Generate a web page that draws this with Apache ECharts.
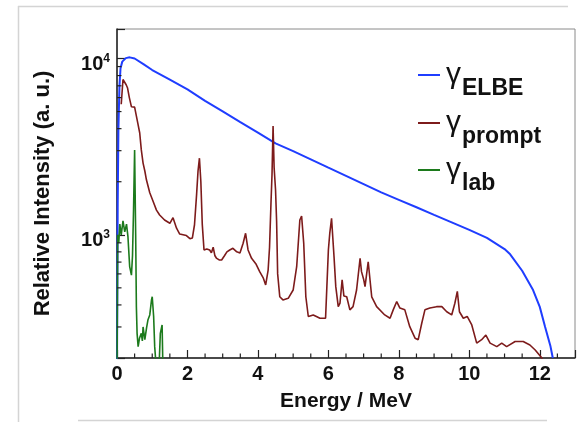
<!DOCTYPE html>
<html>
<head>
<meta charset="utf-8">
<script src="https://cdn.jsdelivr.net/npm/echarts@6/dist/echarts.min.js"></script>
<style>
html,body{margin:0;padding:0;background:#fff;}
#c{width:578px;height:422px;}
</style>
</head>
<body>
<div id="c"></div>
<script>
// ---- data (Energy in MeV, relative intensity in a.u.) ----
const elbeE = [0, 0.02, 0.04, 0.07, 0.1, 0.15, 0.25, 0.36, 0.5, 0.75, 1.0, 1.5, 2.0, 2.5, 3.0, 3.5, 4.0, 4.5, 5.0, 5.5, 6.0, 6.5, 7.0, 7.5, 8.0, 8.5, 9.0, 9.5, 10.0, 10.5, 11.0, 11.16, 11.5, 11.81, 12.0, 12.15, 12.3, 12.37];
const elbeI = [180, 1500, 4000, 7000, 8800, 9600, 10050, 10150, 10000, 9300, 8600, 7590, 6680, 5750, 5010, 4360, 3795, 3300, 2980, 2680, 2405, 2160, 1940, 1740, 1578, 1432, 1298, 1177, 1067, 960, 830, 775, 625, 486, 390, 301, 235, 200];

const promptE = [0.12, 0.17, 0.22, 0.26, 0.30, 0.35, 0.41, 0.45, 0.50, 0.55, 0.59, 0.645, 0.69, 0.74, 0.79, 0.835, 0.93, 1.01, 1.12, 1.21, 1.35, 1.50, 1.59, 1.69, 1.78, 1.97, 2.07, 2.14, 2.20, 2.26, 2.30, 2.34, 2.38, 2.42, 2.47, 2.55, 2.63, 2.68, 2.73, 2.78, 2.82, 2.90, 2.97, 3.05, 3.12, 3.20, 3.29, 3.40, 3.49, 3.58, 3.65, 3.72, 3.82, 3.95, 4.05, 4.15, 4.22, 4.29, 4.33, 4.37, 4.40, 4.43, 4.46, 4.50, 4.53, 4.56, 4.62, 4.71, 4.86, 5.00, 5.10, 5.19, 5.24, 5.30, 5.36, 5.43, 5.57, 5.66, 5.76, 5.92, 6.00, 6.04, 6.09, 6.12, 6.16, 6.21, 6.28, 6.33, 6.39, 6.44, 6.52, 6.61, 6.70, 6.80, 6.90, 6.94, 7.00, 7.04, 7.13, 7.23, 7.37, 7.60, 7.75, 7.84, 7.94, 8.03, 8.17, 8.31, 8.46, 8.55, 8.65, 8.74, 8.88, 9.07, 9.22, 9.36, 9.50, 9.59, 9.66, 9.72, 9.83, 9.94, 10.07, 10.21, 10.35, 10.47, 10.59, 10.78, 10.92, 11.06, 11.30, 11.35, 11.53, 11.72, 11.87, 12.06, 12.10];
const promptI = [5500, 7600, 7700, 7100, 6800, 6000, 5320, 5240, 5300, 5440, 4300, 3780, 3030, 2550, 2300, 2050, 1730, 1575, 1380, 1295, 1213, 1162, 1250, 1090, 1010, 990, 950, 960, 1140, 1700, 2300, 2720, 2000, 1150, 820, 830, 820, 790, 850, 760, 738, 720, 719, 760, 800, 820, 838, 800, 789, 896, 1020, 820, 735, 680, 618, 570, 519, 631, 850, 1500, 2200, 4140, 2400, 1800, 1200, 600, 445, 427, 436, 486, 659, 1213, 1278, 896, 445, 344, 351, 344, 336, 336, 820, 1023, 1240, 1213, 752, 508, 391, 410, 555, 450, 445, 375, 391, 486, 736, 618, 560, 508, 703, 445, 391, 351, 336, 375, 418, 384, 375, 301, 259, 254, 315, 375, 384, 391, 391, 366, 351, 409, 477, 366, 336, 344, 308, 243, 254, 270, 243, 232, 243, 232, 248, 254, 248, 237, 222, 200, 180];

const labE = [0, 0.02, 0.05, 0.08, 0.12, 0.17, 0.22, 0.27, 0.31, 0.36, 0.41, 0.44, 0.47, 0.50, 0.53, 0.55, 0.57, 0.60, 0.64, 0.69, 0.72, 0.74, 0.79, 0.84, 0.88, 0.93, 0.98, 1.00, 1.04, 1.07, 1.12, 1.19, 1.23, 1.28, 1.31];
const labI = [150, 1000, 900, 1150, 1000, 1200, 1040, 1150, 980, 660, 590, 760, 1400, 3030, 1000, 391, 276, 232, 260, 276, 250, 300, 254, 297, 330, 351, 427, 445, 344, 232, 170, 170, 276, 308, 150];

const xTickLabels = [0, 2, 4, 6, 8, 10, 12];
const xMinorTicks = [0.5, 1, 1.5, 2.5, 3, 3.5, 4.5, 5, 5.5, 6.5, 7, 7.5, 8.5, 9, 9.5, 10.5, 11, 11.5, 12.5];
const yMinorTicks = [300, 400, 500, 600, 700, 800, 900, 2000, 3000, 4000, 5000, 6000, 7000, 8000, 9000];
const seriesNames = ['ELBE', 'prompt', 'lab'];

// ---- chart ----
const FONT = '"Liberation Sans", Arial, sans-serif';
const X_MIN = 0, X_MAX = 13, Y_MIN = 200, Y_MAX = 14700;
const zip = (a, b) => a.map((v, i) => [v, b[i]]);

const tickData = xMinorTicks.map(v => [v, Y_MIN, 0]).concat(yMinorTicks.map(v => [X_MIN, v, 1]));

const legendTops = [60, 108, 155];
const legends = seriesNames.map((n, i) => ({
  data: [n],
  orient: 'vertical',
  left: 418,
  top: legendTops[i],
  padding: 0,
  itemWidth: 22,
  itemHeight: 2,
  itemGap: 0,
  icon: 'rect',
  selectedMode: false,
  formatter: name => '{g|γ}{s|' + name + '}',
  textStyle: {
    fontFamily: FONT,
    color: '#111',
    rich: {
      g: {fontSize: 30, fontFamily: FONT, color: '#111', padding: [0, 1, 0, 1]},
      s: {fontSize: 23, fontWeight: 'bold', fontFamily: FONT, color: '#111', padding: [28, 0, 0, 0]}
    }
  }
}));

const chart = echarts.init(document.getElementById('c'), null, {renderer: 'canvas'});
chart.setOption({
  animation: false,
  backgroundColor: '#fff',
  textStyle: {fontFamily: FONT},
  graphic: [
    {type: 'line', shape: {x1: 18.5, y1: 6, x2: 18.5, y2: 422}, style: {stroke: '#d4d4d4', lineWidth: 1.5}, silent: true},
    {type: 'line', shape: {x1: 18, y1: 6.5, x2: 568, y2: 6.5}, style: {stroke: '#d4d4d4', lineWidth: 1.5}, silent: true},
    {type: 'line', shape: {x1: 78, y1: 420.5, x2: 547, y2: 420.5}, style: {stroke: '#d4d4d4', lineWidth: 1.5}, silent: true}
  ],
  grid: {left: 117, right: 2, top: 29, bottom: 64, show: true, borderColor: '#8a8a8a', borderWidth: 1, backgroundColor: 'transparent'},
  legend: legends,
  xAxis: {
    type: 'value',
    min: X_MIN,
    max: X_MAX,
    interval: 2,
    name: 'Energy / MeV',
    nameLocation: 'middle',
    nameGap: 33,
    nameTextStyle: {fontSize: 21, fontWeight: 'bold', color: '#111', fontFamily: FONT},
    axisLine: {show: true, lineStyle: {color: '#222', width: 1.5}},
    axisTick: {show: true, inside: true, length: 8, lineStyle: {color: '#222', width: 1.2}},
    axisLabel: {
      fontSize: 20, fontWeight: 'bold', color: '#111', margin: 6, fontFamily: FONT,
      formatter: v => (xTickLabels.indexOf(v) >= 0 ? String(v) : '')
    },
    splitLine: {show: false}
  },
  yAxis: {
    type: 'log',
    logBase: 10,
    min: Y_MIN,
    max: Y_MAX,
    name: 'Relative Intensity (a. u.)',
    nameLocation: 'middle',
    nameGap: 63,
    nameTextStyle: {fontSize: 22, fontWeight: 'bold', color: '#111', fontFamily: FONT},
    axisLine: {show: true, lineStyle: {color: '#222', width: 1.5}},
    axisTick: {show: true, inside: true, length: 8, lineStyle: {color: '#222', width: 1.2}},
    axisLabel: {
      margin: 7,
      fontFamily: FONT,
      formatter: v => {
        const e = Math.log10(v);
        if (Math.abs(e - Math.round(e)) > 1e-6) return '';
        return '{b|10}{s|' + Math.round(e) + '}';
      },
      rich: {
        b: {fontSize: 20, fontWeight: 'bold', color: '#111', fontFamily: FONT, padding: [12, 0, 0, 0]},
        s: {fontSize: 12, fontWeight: 'bold', color: '#111', fontFamily: FONT, verticalAlign: 'top', padding: [10, 0, 0, 0]}
      }
    },
    splitLine: {show: false}
  },
  series: [
    {
      name: 'ELBE', type: 'line', data: zip(elbeE, elbeI), showSymbol: false, clip: true,
      lineStyle: {color: '#1f3dff', width: 2}, itemStyle: {color: '#1f3dff'}, z: 2
    },
    {
      name: 'prompt', type: 'line', data: zip(promptE, promptI), showSymbol: false, clip: true,
      lineStyle: {color: '#7d1b1b', width: 1.6}, itemStyle: {color: '#7d1b1b'}, z: 3
    },
    {
      name: 'lab', type: 'line', data: zip(labE, labI), showSymbol: false, clip: true,
      lineStyle: {color: '#1c7a1c', width: 1.6}, itemStyle: {color: '#1c7a1c'}, z: 4
    },
    {
      type: 'custom', name: 'minorTicks', data: tickData, silent: true, z: 5, clip: false,
      encode: {x: 0, y: 1},
      renderItem: (params, api) => {
        const p = api.coord([api.value(0), api.value(1)]);
        const vert = api.value(2) === 0;
        return {
          type: 'line',
          shape: vert ? {x1: p[0], y1: p[1], x2: p[0], y2: p[1] - 4.5} : {x1: p[0], y1: p[1], x2: p[0] + 4.5, y2: p[1]},
          style: {stroke: '#222', lineWidth: 1.2}
        };
      }
    }
  ]
});
</script>
</body>
</html>
